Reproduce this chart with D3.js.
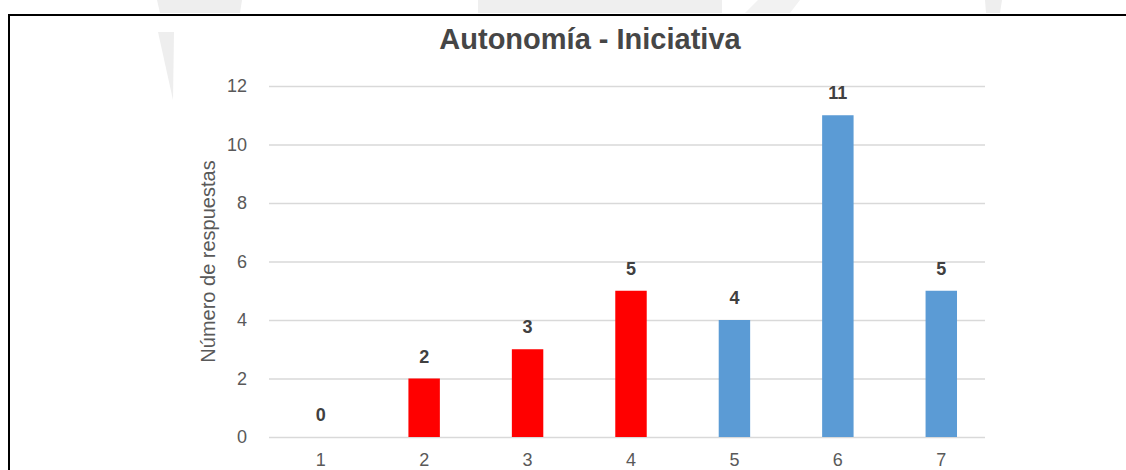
<!DOCTYPE html>
<html>
<head>
<meta charset="utf-8">
<script src="https://cdn.jsdelivr.net/npm/d3@7"></script>
<style>
  html, body { margin: 0; padding: 0; background: #fff; }
  svg { display: block; }
</style>
</head>
<body>
<svg id="chart" width="1126" height="470"></svg>
<script>
// Respuestas por nivel de la escala
const categories = ["1", "2", "3", "4", "5", "6", "7"];
const responses = [0, 2, 3, 5, 4, 11, 5];
// Nivel bajo (1-4) y nivel alto (5-7)
const levelGroup = ["bajo", "bajo", "bajo", "bajo", "alto", "alto", "alto"];
const yTicks = [0, 2, 4, 6, 8, 10, 12];
const chartTitle = "Autonomía - Iniciativa";
const yTitle = "Número de respuestas";

const svg = d3.select("#chart");
const W = 1126, H = 470;

const colorFor = d3.scaleOrdinal().domain(["bajo", "alto"]).range(["#FF0000", "#5B9BD5"]);

// Marca de agua tenue del fondo
const wm = svg.append("g");
wm.append("polygon").attr("points", "157,0 242,0 240,13 160,13").attr("fill", "#eeeeee");
wm.append("polygon").attr("points", "478,0 722,0 722,13 478,13").attr("fill", "#efefef");
wm.append("polygon").attr("points", "758,0 800,0 790,13 745,13").attr("fill", "#f2f2f2");
wm.append("polygon").attr("points", "985,0 1002,0 1000,13 986,13").attr("fill", "#eeeeee");
wm.append("polygon").attr("points", "158,32 174,32 173,100").attr("fill", "#eeeeee");

// Marco del gráfico
svg.append("rect")
  .attr("x", 9).attr("y", 15)
  .attr("width", W + 40).attr("height", H)
  .attr("fill", "none").attr("stroke", "#000").attr("stroke-width", 2);

const x = d3.scaleBand()
  .domain(categories)
  .range([269, 993])
  .paddingInner(0.696)
  .paddingOuter(0.348);

const y = d3.scaleLinear().domain([0, 12]).range([437, 86]);

// Líneas de cuadrícula y eje Y
const yAxis = d3.axisLeft(y)
  .tickValues(yTicks)
  .tickSize(-(x.range()[1] - x.range()[0] - 8))
  .tickPadding(22)
  .tickFormat(d3.format("d"));

const gy = svg.append("g")
  .attr("transform", `translate(${x.range()[0]},0)`)
  .call(yAxis);
gy.select(".domain").remove();
gy.selectAll(".tick line").attr("stroke", "#d9d9d9").attr("stroke-width", 1.5);
gy.selectAll(".tick text")
  .attr("fill", "#595959")
  .style("font-family", "'Liberation Sans', Arial, sans-serif")
  .style("font-size", "18px");

// Eje X
const xAxis = d3.axisBottom(x).tickSize(0).tickPadding(16);
const gx = svg.append("g")
  .attr("transform", `translate(0,${y(0)})`)
  .call(xAxis);
gx.select(".domain").remove();
gx.selectAll(".tick text")
  .attr("fill", "#595959")
  .style("font-family", "'Liberation Sans', Arial, sans-serif")
  .style("font-size", "18px");

const rows = categories.map((c, i) => ({ cat: c, value: responses[i], group: levelGroup[i] }));

// Barras
svg.append("g").selectAll("rect")
  .data(rows)
  .join("rect")
  .attr("x", d => x(d.cat))
  .attr("y", d => y(d.value))
  .attr("width", x.bandwidth())
  .attr("height", d => y(0) - y(d.value))
  .attr("fill", d => colorFor(d.group));

// Etiquetas de valor
svg.append("g").selectAll("text")
  .data(rows)
  .join("text")
  .attr("x", d => x(d.cat) + x.bandwidth() / 2)
  .attr("y", d => y(d.value) - 16)
  .attr("text-anchor", "middle")
  .attr("fill", "#404040")
  .style("font-family", "'Liberation Sans', Arial, sans-serif")
  .style("font-size", "18px")
  .style("font-weight", "bold")
  .text(d => d.value);

// Título
svg.append("text")
  .attr("x", 590).attr("y", 49)
  .attr("text-anchor", "middle")
  .attr("fill", "#464646")
  .style("font-family", "'Liberation Sans', Arial, sans-serif")
  .style("font-size", "29px")
  .style("font-weight", "bold")
  .text(chartTitle);

// Título del eje Y
svg.append("text")
  .attr("transform", `translate(215,${(y(0) + y(12)) / 2}) rotate(-90)`)
  .attr("text-anchor", "middle")
  .attr("fill", "#595959")
  .style("font-family", "'Liberation Sans', Arial, sans-serif")
  .style("font-size", "20px")
  .text(yTitle);
</script>
</body>
</html>
